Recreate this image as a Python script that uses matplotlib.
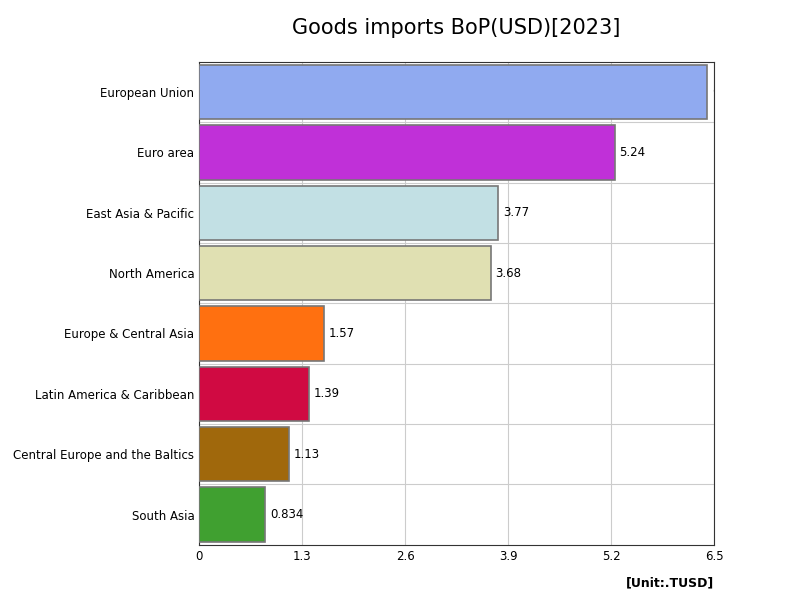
import matplotlib.pyplot as plt

categories = ["European Union", "Euro area", "East Asia & Pacific", "North America",
              "Europe & Central Asia", "Latin America & Caribbean",
              "Central Europe and the Baltics", "South Asia"]
values = [6.41, 5.24, 3.77, 3.68, 1.57, 1.39, 1.13, 0.834]
labels = ["6.41", "5.24", "3.77", "3.68", "1.57", "1.39", "1.13", "0.834"]
colors = ["#90aaf0", "#c030d8", "#c2e0e4", "#e0e0b2", "#ff7010",
          "#d00a42", "#a0680c", "#40a030"]
ticks = [0, 1.3, 2.6, 3.9, 5.2, 6.5]

fig = plt.figure(figsize=(8, 6), dpi=100)
ax = fig.add_axes([0.249, 0.092, 0.644, 0.805])

y = list(range(len(categories)))
ax.barh(y, values, height=0.9, color=colors, edgecolor="#777777", linewidth=1.2, zorder=3)
for yi, v, lab in zip(y, values, labels):
    ax.text(v + 0.06, yi, lab, va="center", ha="left", fontsize=8.5, clip_on=True, zorder=4)

ax.set_yticks(y)
ax.set_yticklabels(categories, fontsize=8.5)
ax.set_ylim(len(categories) - 0.5, -0.5)
ax.set_xlim(0, 6.5)
ax.set_xticks(ticks)
ax.set_xticklabels([f"{t:g}" for t in ticks], fontsize=8.5)
ax.set_yticks([i + 0.5 for i in y[:-1]], minor=True)
ax.tick_params(length=0, which="both")
ax.grid(True, axis="x", color="#cccccc", zorder=0)
ax.grid(True, which="minor", axis="y", color="#cccccc", zorder=0)
for s in ax.spines.values():
    s.set_color("#333333")

fig.suptitle("Goods imports BoP(USD)[2023]", fontsize=15, y=0.97, x=0.57)
fig.text(0.893, 0.022, "[Unit:.TUSD]", ha="right", fontsize=9, fontweight="bold")
fig.savefig("out.png")
